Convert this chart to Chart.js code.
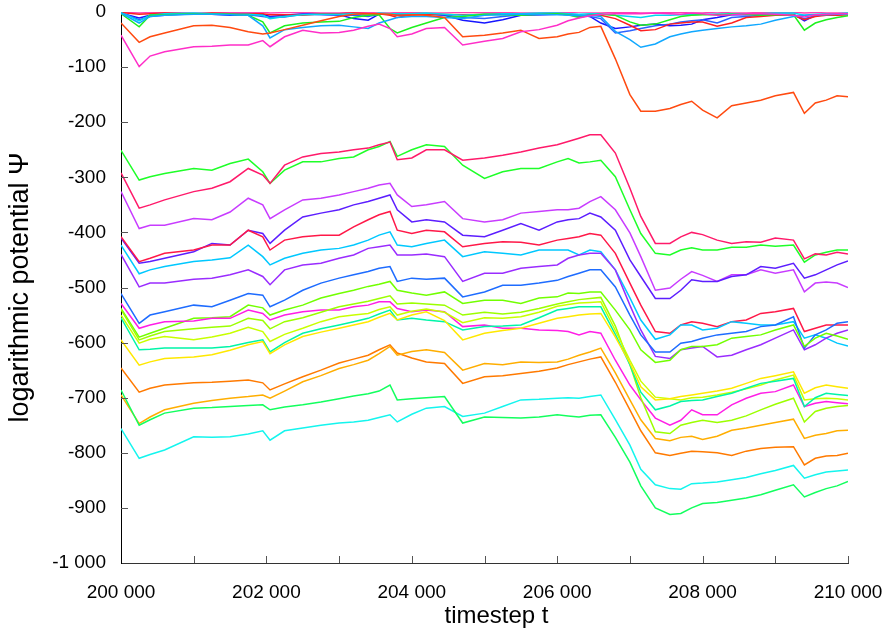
<!DOCTYPE html>
<html>
<head>
<meta charset="utf-8">
<title>logarithmic potential</title>
<script src="https://cdn.jsdelivr.net/npm/chart.js@4.4.1/dist/chart.umd.min.js"></script>
<style>
  html, body { margin: 0; padding: 0; background: #fff; }
  #wrap { width: 887px; height: 631px; }
</style>
</head>
<body>
<div id="wrap"><canvas id="chart"></canvas></div>
<script>
// sampled timesteps shared by every run
var timesteps = [200000, 200250, 200400, 200600, 201000, 201250, 201500, 201750, 201950, 202050,
                 202250, 202500, 202750, 203000, 203200, 203400, 203550, 203700, 203800, 204000,
                 204200, 204450, 204700, 205000, 205250, 205500, 205750, 206000, 206150, 206300,
                 206450, 206600, 206800, 207000, 207150, 207350, 207550, 207700, 207850, 208000,
                 208200, 208400, 208600, 208800, 209000, 209250, 209400, 209550, 209700, 209850, 210000];

// runs that stay close to zero
var psiOrangeRed = [-20, -55, -45, -38, -25, -24, -28, -36, -40, -38, -32, -24, -16, -8, -4, -3, -3, -4, -6, -5, -6, -10, -45, -42, -38, -33, -48, -45, -40, -37, -28, -26, -85, -150, -180, -180, -175, -168, -162, -178, -192, -170, -165, -160, -152, -146, -184, -165, -160, -152, -154];
var psiPink      = [-42, -99, -80, -72, -63, -62, -60, -60, -52, -63, -45, -33, -38, -37, -33, -26, -22, -30, -45, -40, -30, -28, -60, -53, -48, -36, -32, -24, -16, -11, -7, -4, -3, -3, -3, -2, -3, -4, -2, -3, -6, -5, -3, -3, -4, -6, -9, -5, -4, -3, -3];
var psiSky       = [-2, -20, -8, -6, -4, -4, -5, -6, -25, -47, -32, -28, -25, -24, -27, -30, -20, -14, -10, -8, -8, -10, -12, -6, -5, -4, -4, -5, -6, -7, -6, -8, -35, -50, -64, -58, -45, -40, -36, -33, -30, -27, -25, -22, -15, -8, -6, -5, -5, -4, -4];
var psiGreenTop  = [-3, -27, -6, -5, -3, -4, -4, -6, -18, -38, -25, -20, -18, -17, -10, -6, -5, -30, -38, -28, -20, -10, -8, -4, -5, -6, -4, -3, -5, -10, -6, -4, -6, -18, -24, -22, -14, -8, -6, -5, -5, -4, -4, -6, -5, -5, -33, -20, -14, -10, -7];
var psiRedTop    = [-1, -4, -3, -2, -4, -2, -3, -3, -3, -5, -5, -6, -3, -3, -2, -3, -3, -6, -10, -5, -4, -4, -5, -4, -3, -3, -4, -3, -5, -8, -4, -6, -12, -24, -34, -32, -22, -20, -18, -18, -26, -20, -10, -8, -6, -6, -14, -8, -6, -6, -5];
var psiCyanTop   = [-1, -16, -6, -3, -2, -3, -4, -4, -6, -12, -8, -5, -4, -4, -3, -6, -2, -3, -3, -3, -2, -4, -6, -4, -3, -3, -2, -2, -3, -4, -3, -3, -6, -8, -10, -6, -6, -5, -5, -4, -4, -3, -3, -3, -2, -2, -6, -4, -3, -3, -2];
var psiRoseTop   = [0, -2, -1, -1, 0, 0, -1, -1, 0, -2, -1, -1, 0, 0, -1, -1, 0, 0, -1, -1, 0, 0, -1, 0, -1, 0, 0, -1, -1, 0, 0, 0, -1, -1, 0, 0, -1, -1, 0, 0, -2, 0, 0, -1, -1, 0, -2, -1, 0, 0, 0];
var psiRoyalTop  = [-1, -14, -8, -6, -3, -4, -4, -5, -8, -10, -9, -4, -5, -6, -6, -8, -4, -4, -5, -4, -3, -5, -10, -12, -8, -5, -5, -4, -4, -6, -8, -12, -38, -34, -30, -25, -22, -18, -16, -14, -20, -10, -8, -6, -6, -5, -12, -7, -5, -5, -4];
var psiNavyTop   = [-2, -11, -6, -4, -3, -4, -6, -5, -4, -8, -6, -3, -4, -5, -12, -15, -4, -3, -6, -5, -4, -6, -15, -20, -14, -6, -5, -4, -4, -5, -8, -20, -30, -27, -24, -22, -25, -24, -22, -14, -10, -5, -5, -4, -4, -4, -16, -6, -4, -4, -3];

// runs in the lower band
var psiGreen      = [-251, -305, -299, -293, -284, -287, -275, -267, -290, -311, -287, -272, -272, -266, -263, -250, -244, -235, -262, -250, -241, -244, -278, -302, -290, -284, -284, -272, -266, -274, -272, -269, -299, -359, -402, -438, -441, -432, -428, -432, -432, -427, -427, -423, -425, -423, -454, -441, -436, -432, -432];
var psiCrimson    = [-292, -356, -350, -341, -326, -320, -308, -284, -296, -311, -278, -263, -257, -254, -250, -247, -241, -236, -268, -265, -250, -250, -269, -265, -260, -254, -247, -241, -235, -229, -223, -223, -256, -320, -371, -420, -420, -408, -400, -404, -414, -420, -417, -418, -410, -414, -448, -439, -441, -436, -439];
var psiOrchid     = [-326, -393, -387, -387, -375, -377, -363, -338, -350, -375, -359, -341, -338, -332, -326, -320, -314, -311, -332, -353, -350, -344, -375, -381, -377, -365, -362, -359, -359, -356, -344, -335, -359, -401, -444, -505, -501, -485, -471, -478, -489, -477, -477, -468, -474, -468, -508, -492, -490, -492, -500];
var psiIndigo     = [-410, -456, -453, -447, -435, -420, -423, -396, -402, -420, -396, -372, -365, -359, -350, -344, -338, -332, -359, -381, -377, -381, -405, -408, -396, -384, -396, -381, -377, -375, -365, -372, -396, -450, -480, -520, -520, -505, -486, -489, -489, -480, -477, -462, -465, -456, -483, -477, -468, -459, -452];
var psiRed        = [-408, -453, -447, -438, -432, -423, -423, -396, -408, -432, -414, -408, -405, -405, -390, -377, -368, -362, -396, -402, -396, -399, -426, -420, -417, -418, -423, -414, -411, -408, -402, -405, -438, -492, -532, -580, -583, -568, -562, -565, -571, -562, -559, -547, -544, -538, -580, -574, -568, -568, -568];
var psiDeepSky    = [-423, -475, -468, -462, -453, -450, -446, -423, -444, -459, -447, -438, -432, -429, -423, -414, -405, -399, -423, -426, -420, -414, -444, -435, -438, -441, -432, -432, -432, -441, -432, -435, -468, -519, -559, -594, -586, -568, -568, -577, -574, -562, -565, -568, -568, -562, -592, -586, -592, -601, -606];
var psiViolet     = [-440, -499, -492, -492, -485, -483, -477, -468, -480, -495, -468, -459, -456, -447, -441, -429, -426, -423, -441, -441, -439, -444, -489, -474, -474, -465, -462, -459, -447, -441, -438, -438, -468, -532, -577, -625, -629, -613, -610, -607, -626, -623, -613, -604, -592, -577, -613, -604, -592, -583, -577];
var psiBlue       = [-511, -565, -550, -544, -532, -535, -523, -511, -514, -535, -523, -505, -492, -483, -477, -471, -465, -462, -489, -483, -485, -483, -517, -508, -496, -496, -492, -487, -480, -474, -468, -468, -499, -550, -586, -617, -617, -601, -598, -592, -586, -583, -580, -571, -568, -553, -610, -586, -577, -565, -562];
var psiMagenta    = [-529, -574, -568, -562, -561, -556, -556, -541, -547, -559, -550, -544, -541, -541, -535, -532, -526, -526, -538, -544, -541, -544, -571, -568, -574, -574, -577, -578, -580, -586, -580, -583, -632, -677, -704, -737, -750, -741, -722, -731, -731, -713, -701, -692, -689, -677, -716, -710, -707, -709, -711];
var psiChartreuse = [-538, -590, -583, -574, -556, -555, -553, -532, -537, -550, -541, -532, -519, -511, -505, -498, -494, -489, -505, -510, -514, -508, -529, -523, -523, -529, -519, -517, -510, -511, -508, -508, -541, -577, -613, -636, -632, -613, -607, -607, -604, -592, -589, -586, -577, -568, -607, -592, -583, -588, -594];
var psiLime       = [-540, -595, -588, -580, -575, -572, -570, -556, -560, -575, -562, -555, -545, -535, -530, -525, -520, -515, -530, -528, -530, -532, -550, -545, -548, -545, -538, -530, -526, -522, -520, -518, -570, -640, -700, -762, -765, -750, -745, -741, -745, -741, -733, -722, -712, -701, -744, -725, -719, -716, -714];
var psiYellowGrn  = [-550, -601, -594, -589, -595, -590, -583, -572, -580, -598, -585, -574, -562, -553, -550, -547, -540, -535, -550, -543, -539, -545, -564, -555, -556, -553, -545, -534, -531, -528, -527, -526, -578, -632, -670, -699, -702, -704, -700, -699, -695, -690, -684, -677, -668, -659, -704, -702, -701, -702, -704];
var psiTeal       = [-555, -613, -612, -610, -610, -610, -607, -600, -595, -617, -600, -583, -575, -568, -562, -556, -548, -541, -559, -556, -559, -562, -577, -571, -570, -568, -555, -541, -538, -535, -535, -535, -585, -640, -690, -722, -715, -707, -705, -704, -698, -692, -683, -674, -670, -665, -716, -700, -692, -694, -696];
var psiYellow     = [-595, -641, -635, -629, -626, -622, -614, -604, -598, -620, -604, -589, -581, -574, -568, -562, -554, -547, -559, -550, -544, -560, -595, -583, -578, -574, -565, -556, -553, -550, -548, -547, -590, -637, -680, -704, -702, -698, -695, -692, -688, -683, -674, -665, -660, -653, -692, -682, -677, -680, -683];
var psiOrange     = [-646, -690, -683, -677, -673, -672, -670, -668, -673, -686, -675, -662, -650, -637, -630, -623, -613, -604, -619, -628, -635, -638, -674, -662, -660, -656, -652, -646, -640, -635, -630, -626, -672, -722, -760, -800, -805, -801, -797, -798, -800, -805, -797, -792, -790, -789, -822, -810, -806, -805, -801];
var psiAmber      = [-695, -747, -735, -722, -710, -705, -701, -698, -695, -701, -688, -671, -660, -647, -640, -632, -620, -607, -623, -616, -613, -618, -650, -638, -640, -635, -636, -635, -630, -623, -617, -610, -655, -704, -740, -774, -778, -772, -770, -776, -770, -759, -755, -750, -745, -739, -774, -768, -765, -760, -759];
var psiSpring     = [-686, -750, -740, -728, -719, -718, -716, -714, -713, -722, -717, -713, -708, -702, -697, -693, -688, -677, -704, -702, -700, -698, -746, -735, -736, -737, -735, -731, -733, -735, -732, -731, -772, -817, -860, -900, -912, -910, -900, -892, -890, -886, -882, -876, -868, -858, -880, -872, -865, -860, -852];
var psiAqua       = [-756, -810, -803, -795, -771, -772, -771, -766, -760, -777, -760, -755, -750, -746, -744, -741, -736, -731, -744, -730, -719, -716, -734, -728, -716, -704, -703, -701, -700, -701, -698, -695, -740, -786, -830, -858, -865, -866, -856, -855, -853, -849, -845, -838, -832, -823, -846, -840, -835, -833, -831];

// tick values
var xLabelTicks = [200000, 202000, 204000, 206000, 208000, 210000];
var xMarkTicks = [201000, 202000, 203000, 204000, 205000, 206000, 207000, 208000, 209000, 210000];
var yMarkTicks = [-900, -800, -700, -600, -500, -400, -300, -200, -100];

// drawing order, bottom first
var runs = [
  [psiSpring, '#12ff5e'], [psiAqua, '#14f5ee'], [psiAmber, '#ffae00'], [psiOrange, '#ff7a00'],
  [psiYellow, '#ffe800'], [psiTeal, '#00f5a8'], [psiYellowGrn, '#c8ff00'], [psiLime, '#9cff00'],
  [psiMagenta, '#ff1ee6'], [psiChartreuse, '#72ff00'], [psiBlue, '#1e6cff'], [psiViolet, '#9a2cff'],
  [psiDeepSky, '#00c8ff'], [psiRed, '#ff1848'], [psiIndigo, '#5c1eff'], [psiOrchid, '#c83cff'],
  [psiCrimson, '#ff1a6a'], [psiGreen, '#1eff28'],
  [psiPink, '#ff2ec8'], [psiOrangeRed, '#ff4a10'], [psiSky, '#10a8ff'], [psiGreenTop, '#1ef01e'],
  [psiCyanTop, '#00d8f0'], [psiRedTop, '#ff2020'], [psiRoseTop, '#ff40b0'], [psiRoyalTop, '#2a62ff'],
  [psiNavyTop, '#1616ff']
];

function groupThousands(v) {
  var s = String(Math.abs(v));
  if (s.length > 3) s = s.slice(0, s.length - 3) + ' ' + s.slice(s.length - 3);
  return (v < 0 ? '-' : '') + s;
}

var datasets = runs.map(function (r, i) {
  return {
    label: 'run ' + (i + 1),
    data: timesteps.map(function (t, k) { return { x: t, y: r[0][k] }; }),
    borderColor: r[1],
    borderWidth: 1.5,
    pointRadius: 0,
    tension: 0,
    fill: false
  };
});

// short inward tick marks along both axes
var innerTicks = {
  id: 'innerTicks',
  afterDatasetsDraw: function (chart) {
    var ctx = chart.ctx, area = chart.chartArea, sx = chart.scales.x, sy = chart.scales.y;
    ctx.save();
    ctx.strokeStyle = '#555';
    ctx.lineWidth = 1;
    ctx.beginPath();
    xMarkTicks.forEach(function (t) {
      var px = Math.round(sx.getPixelForValue(t)) + 0.5;
      ctx.moveTo(px, area.bottom);
      ctx.lineTo(px, area.bottom - 7);
    });
    yMarkTicks.forEach(function (v) {
      var py = Math.round(sy.getPixelForValue(v)) + 0.5;
      ctx.moveTo(area.left, py);
      ctx.lineTo(area.left + 7, py);
    });
    ctx.stroke();
    ctx.restore();
  }
};

var font = "'Liberation Sans', Arial, sans-serif";

new Chart(document.getElementById('chart'), {
  type: 'line',
  data: { datasets: datasets },
  plugins: [innerTicks],
  options: {
    responsive: true,
    maintainAspectRatio: false,
    animation: false,
    devicePixelRatio: 1,
    layout: { padding: { top: 12, right: 39, left: 0, bottom: 0 } },
    plugins: {
      legend: { display: false },
      tooltip: { enabled: false }
    },
    scales: {
      x: {
        type: 'linear',
        min: 200000,
        max: 210000,
        afterFit: function (scale) {
          scale.height = 68;
          scale.paddingLeft = 0;
          scale.paddingRight = 0;
        },
        afterBuildTicks: function (scale) {
          scale.ticks = xLabelTicks.map(function (v) { return { value: v }; });
        },
        grid: { display: false, drawTicks: false },
        border: { display: true, color: '#333', width: 1 },
        ticks: {
          color: '#000',
          padding: 18,
          maxRotation: 0,
          font: { family: font, size: 19 },
          callback: function (v) { return groupThousands(v); }
        },
        title: {
          display: true,
          text: '\u2002\u2002timestep t',
          color: '#000',
          font: { family: font, size: 24 },
          padding: { top: 0, bottom: 0 }
        }
      },
      y: {
        min: -1000,
        max: 0,
        afterFit: function (scale) {
          scale.width = 121;
          scale.paddingTop = 0;
          scale.paddingBottom = 0;
        },
        grid: { display: false, drawTicks: false },
        border: { display: true, color: '#000', width: 1 },
        ticks: {
          stepSize: 100,
          color: '#000',
          padding: 15,
          font: { family: font, size: 19 },
          callback: function (v) { return groupThousands(v); }
        },
        title: {
          display: true,
          text: 'logarithmic potential \u03A8',
          color: '#000',
          font: { family: font, size: 27 },
          padding: { top: 4, bottom: 4 }
        }
      }
    }
  }
});
</script>
</body>
</html>
